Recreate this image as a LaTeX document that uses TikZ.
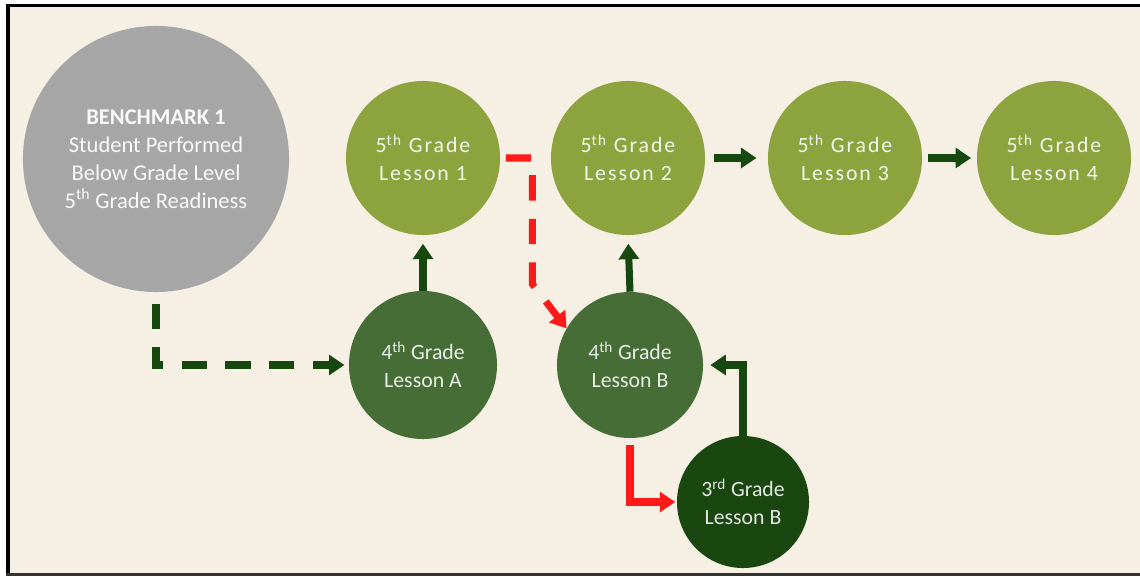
\documentclass[tikz,border=0pt]{standalone}
\usepackage{fontspec}
\setmainfont{Carlito}
\newfontfamily\spacedfont[LetterSpace=9]{Carlito}
\usetikzlibrary{arrows.meta}

\definecolor{bgcream}{HTML}{F5F0E3}
\definecolor{benchgray}{HTML}{A6A6A6}
\definecolor{olive}{HTML}{8CA33E}
\definecolor{midgreen}{HTML}{466D36}
\definecolor{deepgreen}{HTML}{1A4610}
\definecolor{arrowgreen}{HTML}{164810}
\definecolor{arrowred}{HTML}{FF1A1A}

\begin{document}
\begin{tikzpicture}[x=0.025cm, y=-0.025cm,
	lesson/.style={circle, inner sep=0pt, align=center, font=\fontsize{15.5}{20}\selectfont},
	link/.style={line width=5pt, -{Triangle[width=14pt,length=11pt]}},
	gap/.style={dash pattern=on 18pt off 13pt}
	]
	
	% ---- Background and frame ----
	\useasboundingbox (0,0) rectangle (1140,577);
	\fill[white] (0,0) rectangle (1140,577);
	\fill[bgcream] (8,6) rectangle (1140,574);
	\draw[line width=2.2pt] (6,5.5) -- (1140,5.5);
	\draw[line width=3pt] (8,4) -- (8,575);
	\draw[line width=1.5pt, black!80] (6,574.5) -- (1140,574.5);
	
	% ---- Benchmark ----
	\node[lesson, fill=benchgray, text=white!95!gray, minimum size=6.65cm, font=\fontsize{16}{20}\selectfont] (bench) at (156,159)
	{\textbf{BENCHMARK 1}\\Student Performed\\Below Grade Level\\5\textsuperscript{th} Grade Readiness};
	
	% ---- 5th grade lessons ----
	\foreach \x/\name in {423/1, 628/2, 845/3, 1054/4}
	{
		\node[lesson, fill=olive, text=white!90!olive, minimum size=3.85cm, font=\fontsize{15.5}{20}\spacedfont] (l\name) at (\x,158) {5\textsuperscript{th} Grade\\Lesson \name};
	}
	
	% ---- 4th and 3rd grade lessons ----
	\node[lesson, fill=midgreen, text=white!88!midgreen, minimum size=3.7cm] (la) at (423,365) {4\textsuperscript{th} Grade\\Lesson A};
	\node[lesson, fill=midgreen, text=white!88!midgreen, minimum size=3.65cm] (lb) at (630,365) {4\textsuperscript{th} Grade\\Lesson B};
	\node[lesson, fill=deepgreen, text=white!88!deepgreen, minimum size=3.3cm] (lc) at (743,502) {3\textsuperscript{rd} Grade\\Lesson B};
	
	% ---- Arrows ----
	\draw[link, gap, arrowgreen, shorten <=8pt, shorten >=3pt] (bench.south) |- (la.west);
	\draw[link, arrowgreen, shorten >=6pt] (la.north) -- (l1.south);
	\draw[link, arrowgreen, shorten >=6pt] (lb.north) -- (l2.south);
	\draw[link, arrowgreen, shorten <=6pt, shorten >=8pt] (l2.east) -- (l3.west);
	\draw[link, arrowgreen, shorten <=4pt, shorten >=4pt] (l3.east) -- (l4.west);
	\draw[link, gap, arrowred, shorten <=4pt] (l1.east) -- ++(32,0) -- ++(0,126) -- (lb.150);
	\draw[link, arrowred, shorten <=5pt, shorten >=1pt] (lb.south) |- (lc.west);
	\draw[link, arrowgreen, shorten >=5pt] (lc.north) |- (lb.east);
	
\end{tikzpicture}
\end{document}
